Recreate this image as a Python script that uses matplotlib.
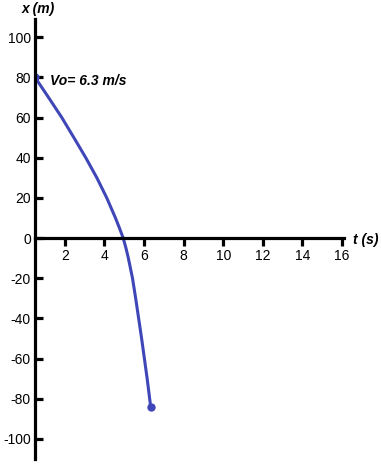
import matplotlib.pyplot as plt

# values
t_vals = [0.5, 1.18, 1.85, 2.46, 3.06, 3.62, 4.12, 4.56, 4.76, 4.95, 5.09, 5.21, 5.42, 5.58,
          5.73, 5.88, 6.02, 6.16, 6.34]
x_vals = [80, 70, 60, 50, 40, 30, 20, 10, 5, 0, -5, -10, -20, -30, -40, -50, -60, -70, -84.2]
x_ticks = [2, 4, 6, 8, 10, 12, 14, 16]
y_ticks = [-100, -80, -60, -40, -20, 0, 20, 40, 60, 80, 100]

plt.rcParams['font.family'] = ['Liberation Sans', 'DejaVu Sans']
plt.rcParams['axes.unicode_minus'] = False

fig = plt.figure(figsize=(3.81, 4.66), dpi=100)
ax = fig.add_axes([0.092, 0.015, 0.811, 0.944])

color = '#3F47B8'
ax.plot(t_vals, x_vals, color=color, lw=2.2, solid_capstyle='round', solid_joinstyle='round')
ax.plot([t_vals[0], t_vals[-1]], [x_vals[0], x_vals[-1]], 'o', color=color, ms=5)

ax.set_xlim(0.5, 16.1)
ax.set_ylim(-110, 109)

ax.spines['top'].set_visible(False)
ax.spines['right'].set_visible(False)
ax.spines['bottom'].set_position(('data', 0))
for s in ['left', 'bottom']:
    ax.spines[s].set_linewidth(2.3)
ax.set_xticks(x_ticks)
ax.set_yticks(y_ticks)
ax.tick_params(axis='x', direction='out', length=6, width=2.3, labelsize=10, pad=2)
ax.tick_params(axis='y', direction='in', length=6, width=2.3, labelsize=10, pad=3)
ax.patch.set_visible(False)

fig.text(38 / 381, 1 - 9 / 466, 'x (m)', fontsize=10, fontweight='bold', fontstyle='italic',
         ha='center', va='center')
fig.text(366 / 381, 1 - 240 / 466, 't (s)', fontsize=10, fontweight='bold', fontstyle='italic',
         ha='center', va='center')
ax.annotate('Vo= 6.3 m/s', (t_vals[0], x_vals[0]), xytext=(15, -4), textcoords='offset pixels',
            fontsize=10, fontweight='bold', fontstyle='italic', va='center')

fig.savefig('out.png', dpi=100)
